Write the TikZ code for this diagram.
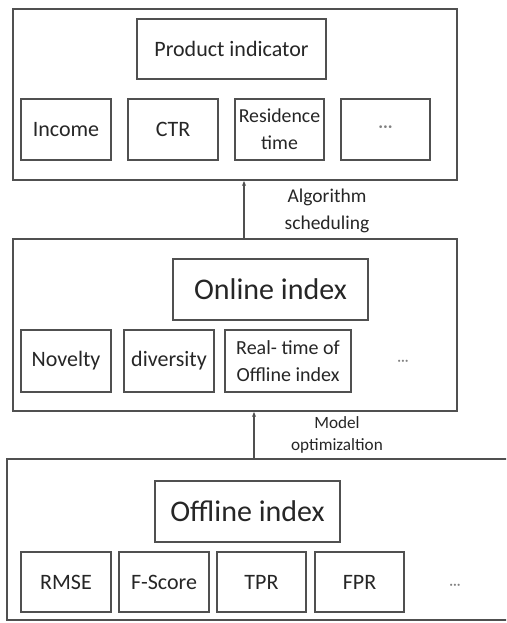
\documentclass[tikz,border=0pt]{standalone}
\usepackage{fontspec}
\usetikzlibrary{arrows.meta}
\setmainfont{Carlito}
\definecolor{linec}{HTML}{505050}
\definecolor{textc}{HTML}{262626}
\definecolor{dotc}{HTML}{808080}
\begin{document}
\begin{tikzpicture}[x=1pt,y=-1pt,
  outer/.style={draw=linec,line width=1.8pt,minimum width=444pt,minimum height=171pt,inner sep=0pt},
  bx/.style={draw=linec,line width=1.7pt,inner sep=0pt,text=textc,align=center},
  big/.style={bx,font=\fontsize{30}{34}\selectfont},
  head/.style={bx,font=\fontsize{22}{27}\selectfont},
  item/.style={bx,font=\fontsize{22}{27}\selectfont,minimum width=90pt,minimum height=61pt},
  two/.style={bx,font=\fontsize{19.8}{27}\selectfont,minimum height=61pt},
  dots/.style={text=dotc,font=\fontsize{15}{18}\selectfont,inner sep=0pt},
  lab/.style={text=textc,align=center,inner sep=0pt},
  arr/.style={draw=linec,line width=1.3pt,-{Stealth[length=5pt,width=4pt]}}
]
\clip (0,0) rectangle (506,623);
\fill[white] (0,0) rectangle (506,623);
% top block
\node[outer] (top) at (235,94.5) {};
\node[head,minimum width=189pt,minimum height=60pt] (pi) at (231.5,49) {Product indicator};
\node[item] (inc) at (66,129.5) {Income};
\node[item] (ctr) at (173,129.5) {CTR};
\node[two,minimum width=89pt] (res) at (279.5,129.5) {Residence\\time};
\node[item,minimum width=89pt] (tdb) at (385.5,129.5) {};
\node[dots,font=\fontsize{19}{22}\selectfont] at (tdb.center) {···};
% middle block
\node[outer,minimum height=172pt] (mid) at (235,325) {};
\node[big,minimum width=195pt,minimum height=61pt] (on) at (270.5,289.5) {Online index};
\node[item,minimum height=62pt] (nov) at (66,361) {Novelty};
\node[item,minimum height=62pt] (div) at (169,361) {diversity};
\node[two,minimum width=126pt,minimum height=62pt,font=\fontsize{20}{27}\selectfont] (rt) at (288,361) {Real- time of\\Offline index};
\node[dots] (mdots) at (403,363) {···};
% bottom block
\node[draw=linec,line width=1.8pt,minimum width=520pt,minimum height=161pt,inner sep=0pt] (bot) at (267,539.5) {};
\node[big,minimum width=185pt,minimum height=61pt] (off) at (247.5,511.5) {Offline index};
\node[item,minimum height=60pt] (rmse) at (66,582) {RMSE};
\node[item,minimum height=60pt] (fs) at (164,582) {F-Score};
\node[item,minimum width=89pt,minimum height=60pt] (tpr) at (261.5,582) {TPR};
\node[item,minimum width=89pt,minimum height=60pt] (fpr) at (359.5,582) {FPR};
\node[dots] (bdots) at (455,587) {···};
% connectors
\coordinate (a1) at (244,0);
\coordinate (a2) at (254,0);
\draw[arr] (mid.north -| a1) -- (top.south -| a1);
\draw[arr] (bot.north -| a2) -- (mid.south -| a2);
\node[lab,font=\fontsize{19.5}{27}\selectfont] (l1) at (327,211) {Algorithm\\scheduling};
\node[lab,font=\fontsize{17.2}{22}\selectfont] (l2) at (337,435) {Model\\optimizaltion};
\end{tikzpicture}
\end{document}
